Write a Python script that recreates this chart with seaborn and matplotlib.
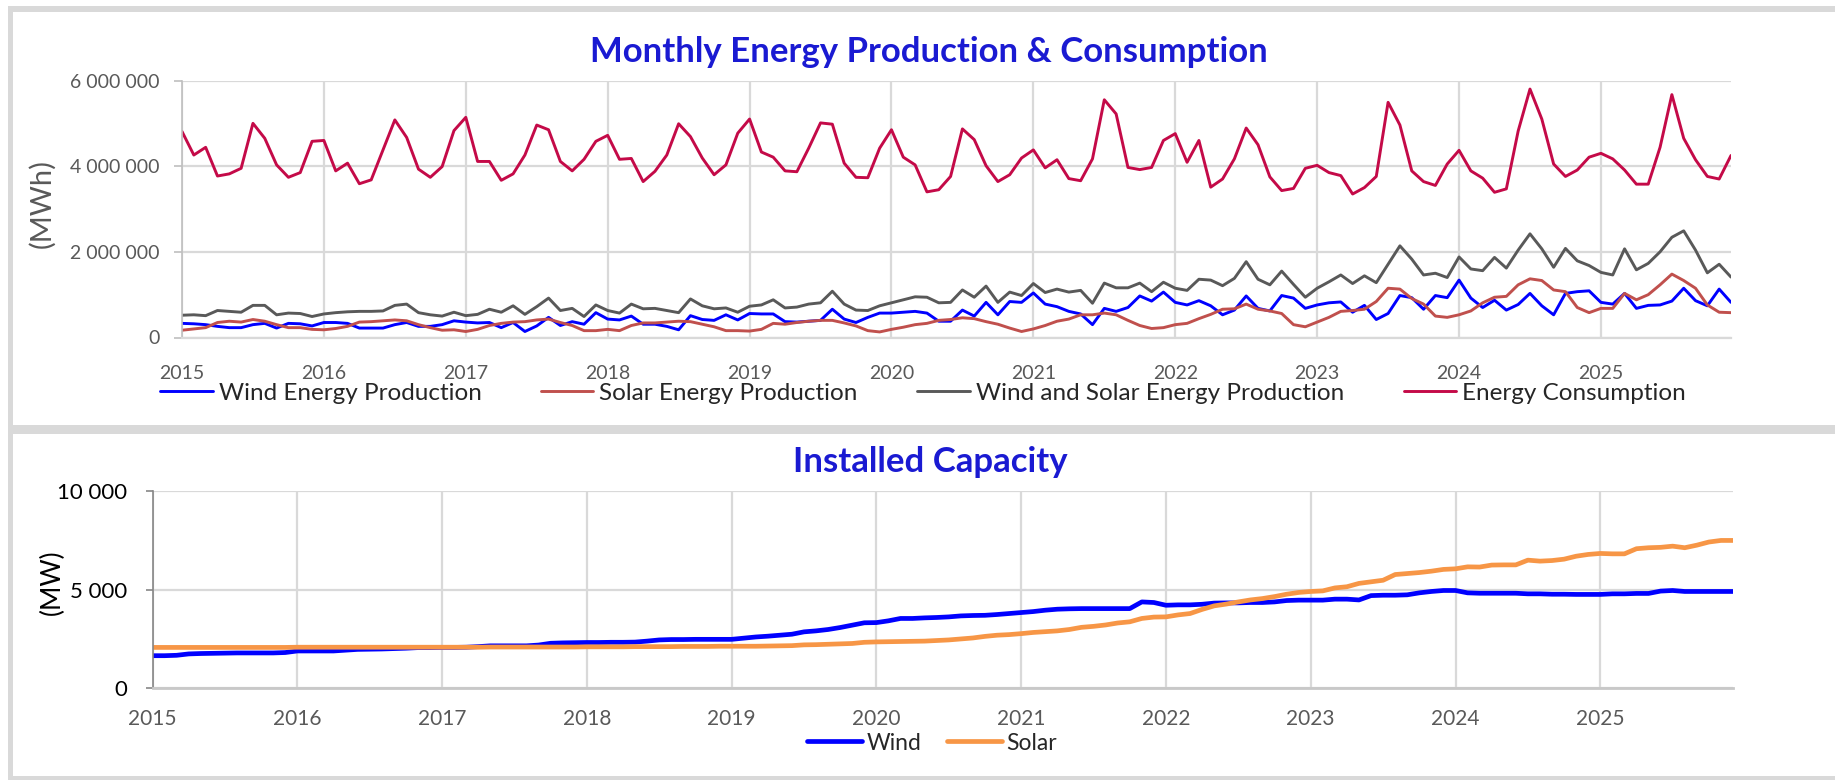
import numpy as np
import pandas as pd
import matplotlib
matplotlib.use("Agg")
import matplotlib.pyplot as plt
from matplotlib.patches import Rectangle
from matplotlib.ticker import FuncFormatter, MultipleLocator
import seaborn as sns

# === Data (Jan 2015 .. Dec 2025, monthly) ===
START_YEAR = 2015
N_MONTHS = 132

# monthly energy, millions of MWh
wind_prod = [
    0.33, 0.32, 0.30, 0.26, 0.23, 0.23, 0.30, 0.33, 0.22, 0.33, 0.32, 0.27,
    0.35, 0.35, 0.33, 0.22, 0.22, 0.22, 0.30, 0.35, 0.26, 0.26, 0.30, 0.39,
    0.36, 0.34, 0.35, 0.23, 0.35, 0.14, 0.27, 0.47, 0.28, 0.37, 0.31, 0.58,
    0.43, 0.41, 0.50, 0.31, 0.31, 0.26, 0.18, 0.51, 0.42, 0.40, 0.53, 0.41,
    0.56, 0.55, 0.55, 0.37, 0.36, 0.38, 0.40, 0.66, 0.43, 0.35, 0.47, 0.57,
    0.57, 0.59, 0.61, 0.57, 0.38, 0.38, 0.64, 0.50, 0.82, 0.53, 0.84, 0.82,
    1.04, 0.78, 0.72, 0.61, 0.55, 0.30, 0.68, 0.61, 0.70, 0.97, 0.85, 1.06,
    0.82, 0.76, 0.86, 0.74, 0.53, 0.64, 0.97, 0.68, 0.62, 0.98, 0.92, 0.68,
    0.76, 0.81, 0.83, 0.59, 0.75, 0.42, 0.56, 0.98, 0.93, 0.66, 0.98, 0.93,
    1.34, 0.92, 0.70, 0.87, 0.64, 0.77, 1.03, 0.74, 0.53, 1.03, 1.07, 1.09,
    0.82, 0.78, 1.03, 0.68, 0.75, 0.76, 0.85, 1.15, 0.86, 0.74, 1.13, 0.82,
]
solar_prod = [
    0.17, 0.20, 0.23, 0.35, 0.38, 0.36, 0.42, 0.38, 0.30, 0.23, 0.23, 0.19,
    0.18, 0.21, 0.26, 0.36, 0.37, 0.39, 0.41, 0.39, 0.30, 0.23, 0.17, 0.18,
    0.14, 0.19, 0.28, 0.33, 0.36, 0.37, 0.41, 0.43, 0.35, 0.28, 0.16, 0.16,
    0.19, 0.16, 0.28, 0.34, 0.34, 0.36, 0.38, 0.37, 0.31, 0.25, 0.16, 0.16,
    0.15, 0.19, 0.33, 0.31, 0.35, 0.38, 0.40, 0.40, 0.34, 0.27, 0.16, 0.13,
    0.19, 0.24, 0.30, 0.33, 0.40, 0.42, 0.46, 0.44, 0.37, 0.31, 0.22, 0.14,
    0.20, 0.28, 0.38, 0.43, 0.53, 0.53, 0.57, 0.53, 0.40, 0.28, 0.21, 0.23,
    0.30, 0.33, 0.44, 0.54, 0.66, 0.67, 0.78, 0.66, 0.62, 0.56, 0.30, 0.25,
    0.36, 0.47, 0.61, 0.63, 0.66, 0.84, 1.15, 1.13, 0.91, 0.78, 0.50, 0.47,
    0.53, 0.62, 0.81, 0.94, 0.96, 1.23, 1.37, 1.33, 1.11, 1.07, 0.70, 0.58,
    0.68, 0.68, 1.03, 0.88, 1.00, 1.23, 1.48, 1.33, 1.15, 0.76, 0.59, 0.58,
]
wind_solar_prod = [
    0.52, 0.53, 0.51, 0.63, 0.61, 0.59, 0.75, 0.75, 0.53, 0.57, 0.56, 0.49,
    0.55, 0.58, 0.60, 0.61, 0.61, 0.62, 0.75, 0.78, 0.58, 0.53, 0.50, 0.59,
    0.51, 0.54, 0.66, 0.59, 0.74, 0.54, 0.72, 0.92, 0.63, 0.68, 0.49, 0.76,
    0.63, 0.57, 0.78, 0.67, 0.68, 0.63, 0.58, 0.90, 0.74, 0.67, 0.69, 0.59,
    0.73, 0.76, 0.88, 0.69, 0.71, 0.78, 0.81, 1.08, 0.78, 0.64, 0.63, 0.74,
    0.81, 0.88, 0.95, 0.94, 0.81, 0.82, 1.11, 0.94, 1.20, 0.82, 1.06, 0.98,
    1.26, 1.05, 1.13, 1.06, 1.10, 0.80, 1.27, 1.16, 1.16, 1.27, 1.07, 1.29,
    1.15, 1.10, 1.36, 1.34, 1.21, 1.38, 1.77, 1.36, 1.23, 1.55, 1.24, 0.94,
    1.15, 1.30, 1.46, 1.26, 1.44, 1.28, 1.71, 2.14, 1.83, 1.46, 1.50, 1.40,
    1.88, 1.60, 1.56, 1.87, 1.62, 2.04, 2.42, 2.07, 1.64, 2.08, 1.79, 1.68,
    1.52, 1.46, 2.07, 1.58, 1.73, 2.00, 2.34, 2.49, 2.04, 1.51, 1.71, 1.41,
]
consumption = [
    4.81, 4.26, 4.44, 3.77, 3.82, 3.95, 5.00, 4.65, 4.03, 3.74, 3.85, 4.58,
    4.60, 3.89, 4.07, 3.59, 3.68, 4.38, 5.08, 4.67, 3.93, 3.74, 3.99, 4.83,
    5.14, 4.11, 4.11, 3.67, 3.82, 4.26, 4.96, 4.85, 4.11, 3.89, 4.16, 4.58,
    4.72, 4.16, 4.18, 3.64, 3.88, 4.26, 4.99, 4.69, 4.19, 3.80, 4.03, 4.77,
    5.10, 4.33, 4.21, 3.89, 3.87, 4.42, 5.01, 4.98, 4.07, 3.74, 3.73, 4.42,
    4.85, 4.21, 4.03, 3.40, 3.45, 3.76, 4.87, 4.62, 4.01, 3.64, 3.80, 4.19,
    4.38, 3.96, 4.15, 3.71, 3.66, 4.17, 5.55, 5.22, 3.97, 3.92, 3.97, 4.60,
    4.76, 4.09, 4.60, 3.51, 3.70, 4.17, 4.89, 4.50, 3.75, 3.43, 3.48, 3.95,
    4.02, 3.85, 3.78, 3.35, 3.50, 3.76, 5.49, 4.96, 3.89, 3.64, 3.55, 4.05,
    4.37, 3.89, 3.72, 3.39, 3.47, 4.82, 5.80, 5.10, 4.05, 3.76, 3.91, 4.21,
    4.30, 4.17, 3.91, 3.58, 3.58, 4.44, 5.67, 4.65, 4.15, 3.76, 3.70, 4.25,
]

# installed capacity, thousands of MW
wind_cap = [
    1.64, 1.64, 1.66, 1.73, 1.75, 1.76, 1.77, 1.78, 1.78, 1.78, 1.78, 1.80,
    1.88, 1.88, 1.88, 1.88, 1.92, 1.96, 1.97, 1.98, 2.00, 2.02, 2.05, 2.05,
    2.06, 2.06, 2.07, 2.10, 2.14, 2.14, 2.14, 2.14, 2.18, 2.27, 2.29, 2.30,
    2.31, 2.31, 2.32, 2.32, 2.33, 2.38, 2.44, 2.46, 2.46, 2.47, 2.47, 2.47,
    2.47, 2.53, 2.59, 2.63, 2.68, 2.73, 2.85, 2.90, 2.97, 3.07, 3.19, 3.31,
    3.32, 3.41, 3.53, 3.53, 3.56, 3.58, 3.61, 3.66, 3.68, 3.69, 3.73, 3.78,
    3.83, 3.88, 3.95, 4.00, 4.02, 4.03, 4.03, 4.03, 4.03, 4.03, 4.37, 4.34,
    4.20, 4.22, 4.22, 4.25, 4.31, 4.32, 4.32, 4.34, 4.34, 4.37, 4.44, 4.46,
    4.46, 4.46, 4.51, 4.51, 4.47, 4.69, 4.71, 4.71, 4.73, 4.83, 4.90, 4.95,
    4.95, 4.83, 4.81, 4.81, 4.81, 4.81, 4.78, 4.78, 4.76, 4.76, 4.75, 4.75,
    4.75, 4.78, 4.78, 4.80, 4.80, 4.92, 4.95, 4.90, 4.90, 4.90, 4.90, 4.90,
]
solar_cap = [
    2.06, 2.06, 2.06, 2.06, 2.06, 2.06, 2.06, 2.06, 2.06, 2.06, 2.06, 2.06,
    2.07, 2.07, 2.07, 2.07, 2.07, 2.07, 2.07, 2.07, 2.07, 2.07, 2.07, 2.07,
    2.07, 2.07, 2.07, 2.07, 2.08, 2.08, 2.08, 2.08, 2.08, 2.08, 2.08, 2.08,
    2.09, 2.09, 2.09, 2.09, 2.10, 2.10, 2.10, 2.10, 2.11, 2.11, 2.11, 2.12,
    2.12, 2.12, 2.12, 2.13, 2.14, 2.15, 2.19, 2.20, 2.22, 2.24, 2.26, 2.32,
    2.34, 2.35, 2.36, 2.37, 2.38, 2.41, 2.44, 2.49, 2.54, 2.62, 2.68, 2.71,
    2.76, 2.82, 2.86, 2.90, 2.97, 3.08, 3.13, 3.20, 3.30, 3.36, 3.53, 3.60,
    3.61, 3.71, 3.78, 3.99, 4.17, 4.26, 4.37, 4.47, 4.54, 4.64, 4.76, 4.85,
    4.90, 4.93, 5.08, 5.14, 5.31, 5.39, 5.47, 5.76, 5.81, 5.86, 5.93, 6.02,
    6.05, 6.15, 6.14, 6.24, 6.25, 6.25, 6.49, 6.44, 6.47, 6.54, 6.69, 6.78,
    6.83, 6.81, 6.81, 7.07, 7.12, 7.14, 7.20, 7.12, 7.25, 7.41, 7.49, 7.49,
]

TITLE_BLUE = "#1A1AD2"
GRID = "#D9D9D9"
TICK_GRAY = "#595959"
W, H = 1835, 780


def fx(px):
    return px / W


def fy(py):
    return 1 - py / H


def space_thousands(v, pos=None):
    return f"{v:,.0f}".replace(",", " ")


sns.set_theme(style="white")
plt.rcParams["font.family"] = ["Lato", "DejaVu Sans"]

years = START_YEAR + np.arange(N_MONTHS) / 12
energy = pd.DataFrame({
    "x": years,
    "Wind Energy Production": np.array(wind_prod) * 1e6,
    "Solar Energy Production": np.array(solar_prod) * 1e6,
    "Wind and Solar Energy Production": np.array(wind_solar_prod) * 1e6,
    "Energy Consumption": np.array(consumption) * 1e6,
})
capacity = pd.DataFrame({
    "x": years,
    "Wind": np.array(wind_cap) * 1000,
    "Solar": np.array(solar_cap) * 1000,
})

fig = plt.figure(figsize=(W / 100, H / 100), dpi=100)
fig.patch.set_facecolor("white")

# gray panel frame
for x0, y0, x1, y1 in [(8, 6, W, 12), (8, 6, 13, H), (8, 425, W, 434), (8, 776, W, H)]:
    fig.add_artist(Rectangle((fx(x0), fy(y1)), fx(x1 - x0), (y1 - y0) / H,
                             transform=fig.transFigure, color=GRID, lw=0, zorder=0))

# === top panel ===
ax1 = fig.add_axes([fx(182), fy(337.5), fx(1731 - 182), (337.5 - 80.5) / H])
series_colors = {
    "Wind Energy Production": "#0000FF",
    "Solar Energy Production": "#C0504D",
    "Wind and Solar Energy Production": "#595959",
    "Energy Consumption": "#C40A48",
}
for name, color in series_colors.items():
    sns.lineplot(data=energy, x="x", y=name, ax=ax1, color=color, lw=2.1, label=name)

ax1.set_xlim(START_YEAR, years[-1])
ax1.set_ylim(0, 6e6)
ax1.yaxis.set_major_locator(MultipleLocator(2e6))
ax1.xaxis.set_major_locator(MultipleLocator(1))
ax1.xaxis.set_major_formatter(FuncFormatter(lambda v, p: f"{v:.0f}"))
ax1.yaxis.set_major_formatter(FuncFormatter(space_thousands))
ax1.grid(True, color=GRID, lw=1.6)
ax1.set_axisbelow(True)
for s in ["top", "right"]:
    ax1.spines[s].set_visible(False)
ax1.spines["left"].set_color("#BFBFBF")
ax1.spines["left"].set_linewidth(1.2)
ax1.spines["bottom"].set_color(GRID)
ax1.spines["bottom"].set_linewidth(1.6)
ax1.tick_params(axis="y", left=True, length=6, width=1.2, color="#BFBFBF",
                pad=10, labelsize=14, labelcolor=TICK_GRAY)
ax1.tick_params(axis="x", bottom=False, pad=14, labelsize=14, labelcolor=TICK_GRAY)
ax1.set_xlabel("")
ax1.set_ylabel("")
ax1.get_legend().remove()
fig.legend(*ax1.get_legend_handles_labels(), loc="center", bbox_to_anchor=(fx(923), fy(393)),
           ncol=4, frameon=False, fontsize=17.5, handlelength=2.15, handletextpad=0.25,
           columnspacing=2.45, borderaxespad=0, borderpad=0)
fig.text(fx(929), fy(52), "Monthly Energy Production & Consumption", ha="center", va="center",
         fontsize=25, fontweight="bold", color=TITLE_BLUE)
fig.text(fx(42), fy(203), "(MWh)", rotation=90, ha="center", va="center",
         fontsize=21, color=TICK_GRAY)

# === bottom panel ===
ax2 = fig.add_axes([fx(152.5), fy(688), fx(1733 - 152.5), (688 - 491) / H])
sns.lineplot(data=capacity, x="x", y="Wind", ax=ax2, color="#0000FF", lw=3.4, label="Wind")
sns.lineplot(data=capacity, x="x", y="Solar", ax=ax2, color="#F79646", lw=3.4, label="Solar")
ax2.set_xlim(START_YEAR, years[-1])
ax2.set_ylim(0, 10000)
ax2.yaxis.set_major_locator(MultipleLocator(5000))
ax2.xaxis.set_major_locator(MultipleLocator(1))
ax2.xaxis.set_major_formatter(FuncFormatter(lambda v, p: f"{v:.0f}"))
ax2.yaxis.set_major_formatter(FuncFormatter(space_thousands))
ax2.grid(True, color=GRID, lw=1.6)
ax2.set_axisbelow(True)
for s in ["top", "right"]:
    ax2.spines[s].set_visible(False)
ax2.spines["left"].set_color("#868686")
ax2.spines["left"].set_linewidth(1.2)
ax2.spines["bottom"].set_color("#C8C8C8")
ax2.spines["bottom"].set_linewidth(2)
ax2.tick_params(axis="y", left=True, length=5, width=1.2, color="#868686",
                pad=13, labelsize=16, labelcolor="black")
ax2.tick_params(axis="x", bottom=False, pad=9, labelsize=15, labelcolor=TICK_GRAY)
ax2.set_xlabel("")
ax2.set_ylabel("")
ax2.get_legend().remove()
fig.legend(*ax2.get_legend_handles_labels(), loc="center", bbox_to_anchor=(fx(932), fy(743)),
           ncol=2, frameon=False, fontsize=16.5, handlelength=2.4, handletextpad=0.2,
           columnspacing=1.1, borderaxespad=0, borderpad=0)
fig.text(fx(930), fy(462), "Installed Capacity", ha="center", va="center",
         fontsize=25, fontweight="bold", color=TITLE_BLUE)
fig.text(fx(52), fy(582), "(MW)", rotation=90, ha="center", va="center",
         fontsize=19, color="black")

fig.savefig("out.png", dpi=100, facecolor="white")
